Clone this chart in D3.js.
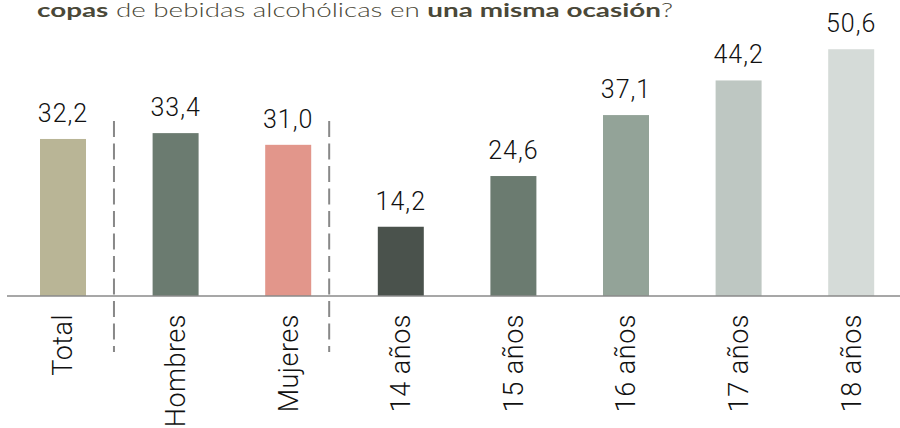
<!DOCTYPE html>
<html>
<head>
<meta charset="utf-8">
<script src="https://cdn.jsdelivr.net/npm/d3@7"></script>
<style>
  body { margin: 0; background: #fff; }
  svg { display: block; }
</style>
</head>
<body>
<script>
const categories = ["Total", "Hombres", "Mujeres", "14 años", "15 años", "16 años", "17 años", "18 años"];
const values = [32.2, 33.4, 31.0, 14.2, 24.6, 37.1, 44.2, 50.6];
const colors = ["#b9b596", "#6b7b70", "#e2968b", "#4a524c", "#6b7b70", "#93a398", "#bec7c2", "#d5dbd8"];
// dashed separators drawn after these categories (share of the gap to the next bar)
const separators = [["Total", 0.42], ["Mujeres", 0.27]];
const titleParts = [
  ["copas", true], [" de bebidas alcohólicas en ", false], ["una misma ocasión", true], ["?", false]
];

const W = 900, H = 428;
const baseline = 296;

const svg = d3.select("body").append("svg")
    .attr("width", W)
    .attr("height", H);

const x = d3.scaleBand()
    .domain(categories)
    .range([40, 874.2])
    .paddingInner(0.5915)
    .paddingOuter(0);

const y = d3.scaleLinear()
    .domain([0, 60])
    .range([baseline, 3.4]);

// title (cut at top in the original)
const title = svg.append("text")
    .attr("x", 37)
    .attr("y", 17)
    .attr("font-family", "Lato, sans-serif")
    .attr("font-size", 19)
    .attr("fill", "#4a4838")
    .attr("textLength", 636)
    .attr("lengthAdjust", "spacingAndGlyphs");
title.selectAll("tspan")
    .data(titleParts)
  .enter().append("tspan")
    .attr("font-weight", d => d[1] ? 700 : 300)
    .text(d => d[0]);

// bars
svg.selectAll("rect.bar")
    .data(values)
  .enter().append("rect")
    .attr("class", "bar")
    .attr("x", (d, i) => x(categories[i]))
    .attr("y", d => y(d))
    .attr("width", x.bandwidth())
    .attr("height", d => baseline - y(d))
    .attr("fill", (d, i) => colors[i]);

// value labels
svg.selectAll("text.val")
    .data(values)
  .enter().append("text")
    .attr("class", "val")
    .attr("x", (d, i) => x(categories[i]) + x.bandwidth() / 2)
    .attr("y", d => y(d) - 17)
    .attr("text-anchor", "middle")
    .attr("font-family", "Roboto, sans-serif")
    .attr("font-weight", 300)
    .attr("font-size", 25)
    .attr("letter-spacing", 1)
    .attr("fill", "#111")
    .text(d => d.toFixed(1).replace(".", ","));

// axis line
svg.append("line")
    .attr("x1", 7).attr("x2", W)
    .attr("y1", baseline).attr("y2", baseline)
    .attr("stroke", "#8a8a8a")
    .attr("stroke-width", 1.6);

// dashed separators
svg.selectAll("line.sep")
    .data(separators)
  .enter().append("line")
    .attr("class", "sep")
    .attr("x1", d => {
      const i = categories.indexOf(d[0]);
      const end = x(d[0]) + x.bandwidth();
      return end + (x(categories[i + 1]) - end) * d[1];
    })
    .attr("x2", function() { return d3.select(this).attr("x1"); })
    .attr("y1", 121)
    .attr("y2", 352)
    .attr("stroke", "#888")
    .attr("stroke-width", 2)
    .attr("stroke-dasharray", "16,6.5");

// category labels (rotated)
svg.selectAll("text.cat")
    .data(categories)
  .enter().append("text")
    .attr("class", "cat")
    .attr("transform", d => `translate(${x(d) + x.bandwidth() / 2},${baseline + 18}) rotate(-90)`)
    .attr("dy", "0.35em")
    .attr("text-anchor", "end")
    .attr("font-family", "Roboto, sans-serif")
    .attr("font-weight", 300)
    .attr("font-size", 27)
    .attr("letter-spacing", 0.5)
    .attr("fill", "#111")
    .text(d => d);
</script>
</body>
</html>
